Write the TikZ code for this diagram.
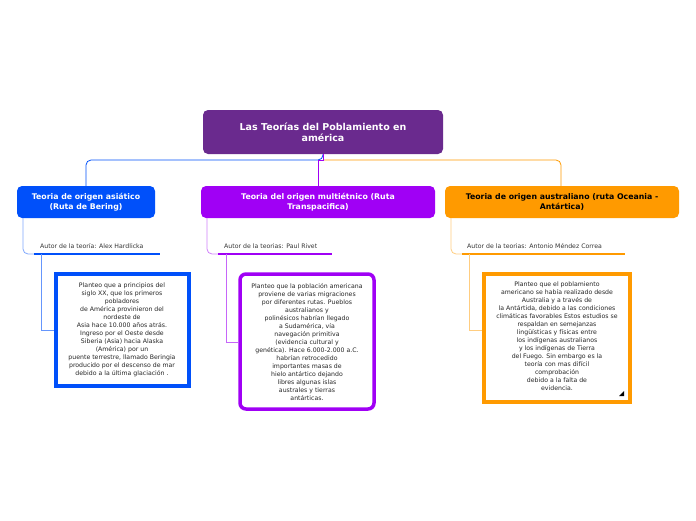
\documentclass[tikz,border=0pt]{standalone}
\usepackage{fontspec}
\setmainfont{DejaVu Sans}
\begin{document}
\begin{tikzpicture}[x=1pt,y=-1pt,
  root/.style={fill=rootc,rounded corners=5pt,text=white,font=\bfseries\fontsize{9.5}{11}\selectfont,align=center,inner sep=0pt},
  br/.style={rounded corners=5pt,font=\bfseries\fontsize{7.8}{9.5}\selectfont,align=center,inner sep=0pt},
  auth/.style={font=\fontsize{6.2}{7.5}\selectfont,anchor=west,inner sep=0pt,text=black!80},
  body/.style={font=\fontsize{6.2}{8}\selectfont,align=center,inner sep=0pt,text=black!85}]
\definecolor{rootc}{HTML}{6A2A8E}
\definecolor{bc}{HTML}{0050FA}
\definecolor{pc}{HTML}{A000F5}
\definecolor{oc}{HTML}{FF9A00}
\useasboundingbox (0,0) rectangle (696,520);
% root
\path[root] (203,110) rectangle (443,154);
\node[root,fill=none] (root) at (323,132) {Las Teorías del Poblamiento en\\américa};
% branches
\path[br,fill=bc] (17,186) rectangle (155,218);
\node[br,text=white] (b1) at (86,202) {Teoria de origen asiático\\(Ruta de Bering)};
\path[br,fill=pc] (201,186) rectangle (435,218);
\node[br,text=white] (b2) at (318,202) {Teoria del origen multiétnico (Ruta\\Transpacifica)};
\path[br,fill=oc] (445,186) rectangle (679,218);
\node[br,text=black] (b3) at (562,202) {Teoria de origen australiano (ruta Oceania -\\Antártica)};
% root connectors
\draw[bc,line width=0.8pt,rounded corners=5pt] (323,154) -- (323,160) -- (86,160) -- (86,186);
\draw[oc,line width=0.8pt,rounded corners=5pt] (323,160) -- (561,160) -- (561,186);
\draw[pc,line width=0.8pt] (323,154) -- (323,160) -- (318,160) -- (318,186);
% authors
\draw[bc!50,line width=0.8pt,rounded corners=5pt] (23,218) -- (23,254) -- (34,254);
\draw[bc,line width=2.5pt] (34,254) -- (160,254);
\node[auth] (a1) at (40,246) {Autor de la teoría: Alex Hardlicka};
\draw[pc!50,line width=0.8pt,rounded corners=5pt] (207,218) -- (207,254) -- (218,254);
\draw[pc,line width=2.5pt] (218,254) -- (332,254);
\node[auth] (a2) at (224,246) {Autor de la teorias: Paul Rivet};
\draw[oc!50,line width=0.8pt,rounded corners=5pt] (451,218) -- (451,254) -- (462,254);
\draw[oc,line width=2.5pt] (462,254) -- (625,254);
\node[auth] (a3) at (467,246) {Autor de la teorias: Antonio Méndez Correa};
% body boxes
\draw[bc,line width=3.5pt,fill=white] (56,274) rectangle (189,386);
\node[body] (t1) at (122,330) {Planteo que a principios del\\siglo XX, que los primeros\\pobladores\\de América provinieron del\\nordeste de\\Asia hace 10.000 años atrás.\\Ingreso por el Oeste desde\\Siberia (Asia) hacia Alaska\\(América) por un\\puente terrestre, llamado Beringia\\producido por el descenso de mar\\debido a la última glaciación .};
\draw[pc,line width=3.5pt,fill=white,rounded corners=6pt] (240,274) rectangle (374,409);
\node[body] (t2) at (307,342) {Planteo que la población americana\\proviene de varias migraciones\\por diferentes rutas. Pueblos\\australianos y\\polinésicos habrían llegado\\a Sudamérica, vía\\navegación primitiva\\(evidencia cultural y\\genética). Hace 6.000-2.000 a.C.\\habrían retrocedido\\importantes masas de\\hielo antártico dejando\\libres algunas islas\\australes y tierras\\antárticas.};
\draw[oc,line width=3.5pt,fill=white] (484,274) rectangle (630,402);
\node[body] (t3) at (557,336) {Planteo que el poblamiento\\americano se había realizado desde\\Australia y a través de\\la Antártida, debido a las condiciones\\climáticas favorables Estos estudios se\\respaldan en semejanzas\\lingüísticas y físicas entre\\los indígenas australianos\\y los indígenas de Tierra\\del Fuego. Sin embargo es la\\teoría con mas difícil\\comprobación\\debido a la falta de\\evidencia.};
\fill[black] (624,391) -- (624,396) -- (619,396) -- cycle;
% body connectors
\draw[bc!60,line width=0.8pt] (41,254) -- (41,330) -- (54,330);
\draw[pc!60,line width=0.8pt] (226,254) -- (226,342) -- (238,342);
\draw[oc!50,line width=0.8pt] (469,254) -- (469,330) -- (482,330);
\end{tikzpicture}
\end{document}
